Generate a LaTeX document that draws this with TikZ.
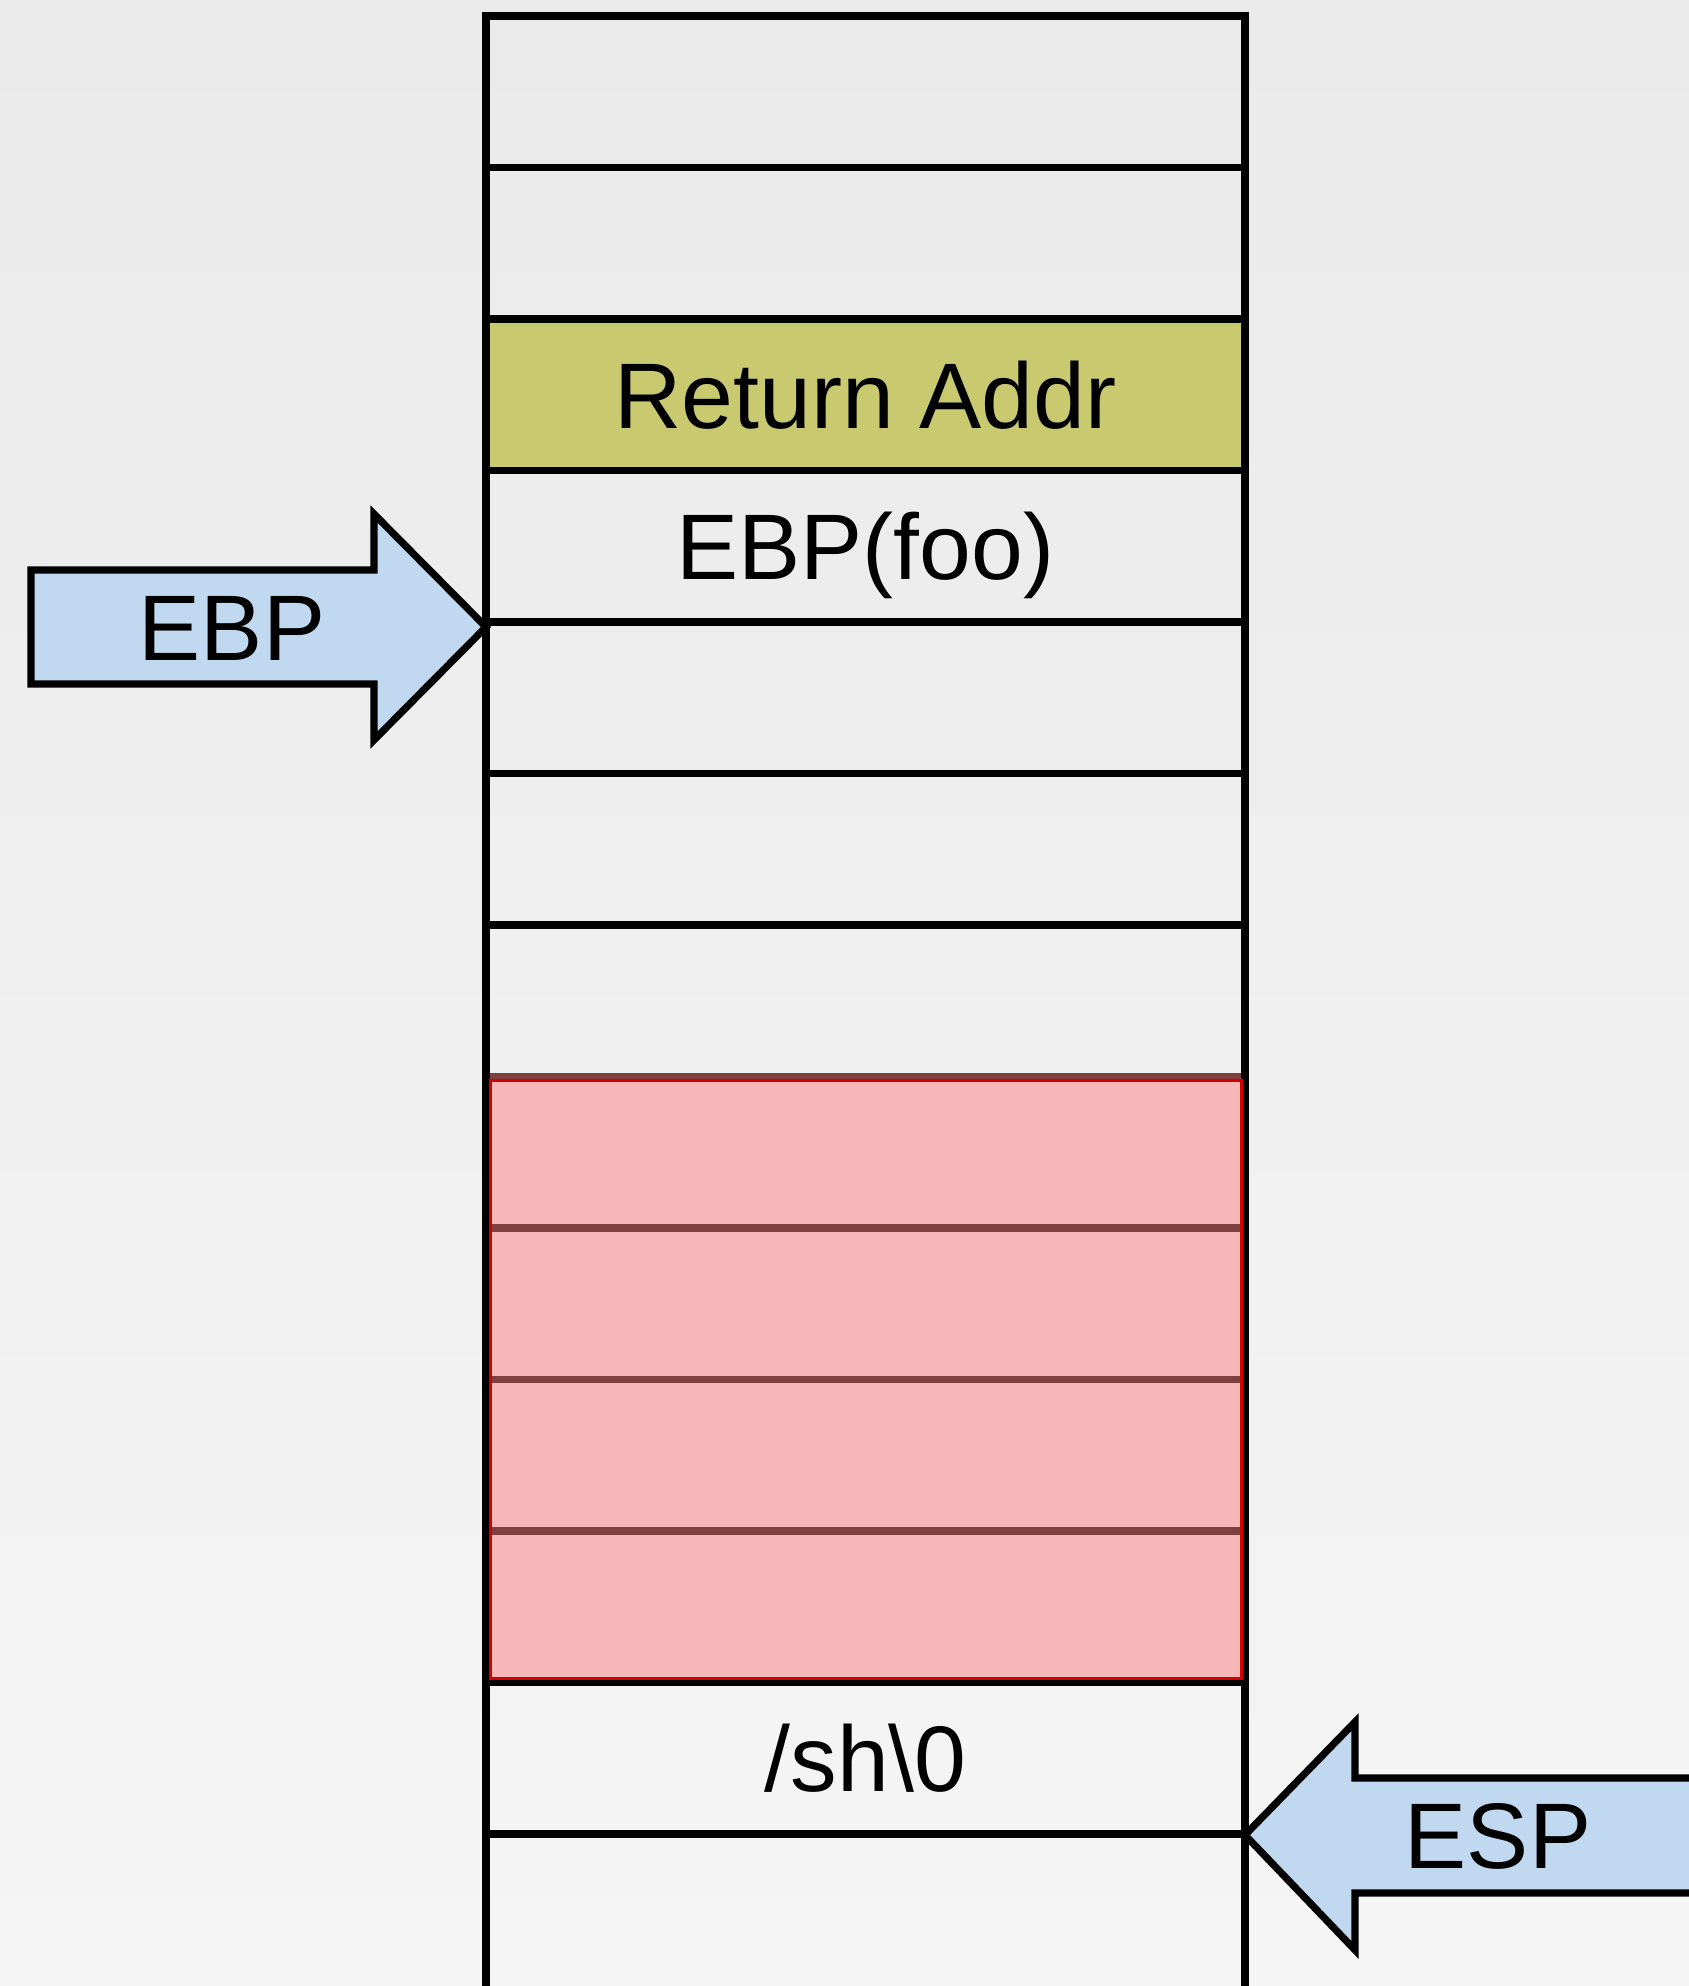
\documentclass[tikz,border=0pt]{standalone}
\usepackage{fontspec}
\setmainfont{Liberation Sans}
\usetikzlibrary{positioning,calc}
\definecolor{bgtop}{RGB}{234,234,234}
\definecolor{bgmid}{RGB}{227,227,227}
\definecolor{bgbot}{RGB}{245,245,245}
\definecolor{retfill}{RGB}{201,201,112}
\definecolor{buffill}{RGB}{245,183,183}
\definecolor{bufline}{RGB}{128,64,64}
\definecolor{bufedge}{RGB}{210,0,0}
\definecolor{regblue}{RGB}{192,217,240}
\tikzset{
  slot/.style={draw=black,line width=0.72mm,minimum width=7.59cm,minimum height=1.515cm,
    inner sep=0pt,outer sep=0pt,text height=19pt,text depth=0pt,
    font=\fontsize{26.5}{30}\selectfont},                 % one stack word
  retslot/.style={slot,fill=retfill},                     % saved return address
  bufslot/.style={slot,draw=bufline,fill=buffill},        % overflowed buffer
  ptr/.style={draw=black,line width=0.72mm,fill=regblue}, % register arrow
  ptrlabel/.style={inner sep=0pt,text height=19pt,text depth=0pt,
    font=\fontsize{26.5}{30}\selectfont},
}

\begin{document}
\begin{tikzpicture}
  \useasboundingbox (0,0) rectangle (16.89,-19.86);
  \clip (0,0) rectangle (16.89,-19.86);
  \shade[top color=bgtop,middle color=bgmid,bottom color=bgbot] (0,0) rectangle (16.89,-19.86);
  % the stack, top to bottom
  \node[slot,anchor=north] (c0) at (8.655,-0.16) {};
  \node[slot,below=0pt of c0] (c1) {};
  \node[retslot,below=0pt of c1] (c2) {Return Addr};
  \node[slot,below=0pt of c2] (c3) {EBP(foo)};
  \node[slot,below=0pt of c3] (c4) {};
  \node[slot,below=0pt of c4] (c5) {};
  \node[slot,below=0pt of c5] (c6) {};
  \node[bufslot,below=0pt of c6] (c7) {};
  \node[bufslot,below=0pt of c7] (c8) {};
  \node[bufslot,below=0pt of c8] (c9) {};
  \node[bufslot,below=0pt of c9] (c10) {};
  \node[slot,below=0pt of c10] (c11) {/sh\textbackslash 0};
  \node[slot,below=0pt of c11,minimum height=1.8cm] (c12) {};
  \draw[line width=0.72mm] (c0.north west) -- (c12.south west);
  \draw[line width=0.72mm] (c0.north east) -- (c12.south east);
  \draw[bufedge,line width=0.3mm] ($(c7.north west)+(0.04,-0.04)$) rectangle ($(c10.south east)+(-0.04,0.04)$);
  % EBP points at the saved frame pointer
  \coordinate (ebptip) at ($(c3.south west)+(0,-0.05)$);
  \draw[ptr] (ebptip) -- ++(-1.12,1.13) -- ++(0,-0.56) -- ++(-3.43,0) -- ++(0,-1.14)
    -- ++(3.43,0) -- ++(0,-0.56) -- cycle;
  \node[ptrlabel] (ebp) at ($(ebptip)+(-2.54,0)$) {EBP};
  % ESP points at the top of the stack
  \coordinate (esptip) at ($(c11.south east)+(0,-0.01)$);
  \draw[ptr] (esptip) -- ++(1.10,1.13) -- ++(0,-0.56) -- ++(4,0) -- ++(0,-1.15)
    -- ++(-4,0) -- ++(0,-0.57) -- cycle;
  \node[ptrlabel] (esp) at ($(esptip)+(2.53,0)$) {ESP};
\end{tikzpicture}
\end{document}
